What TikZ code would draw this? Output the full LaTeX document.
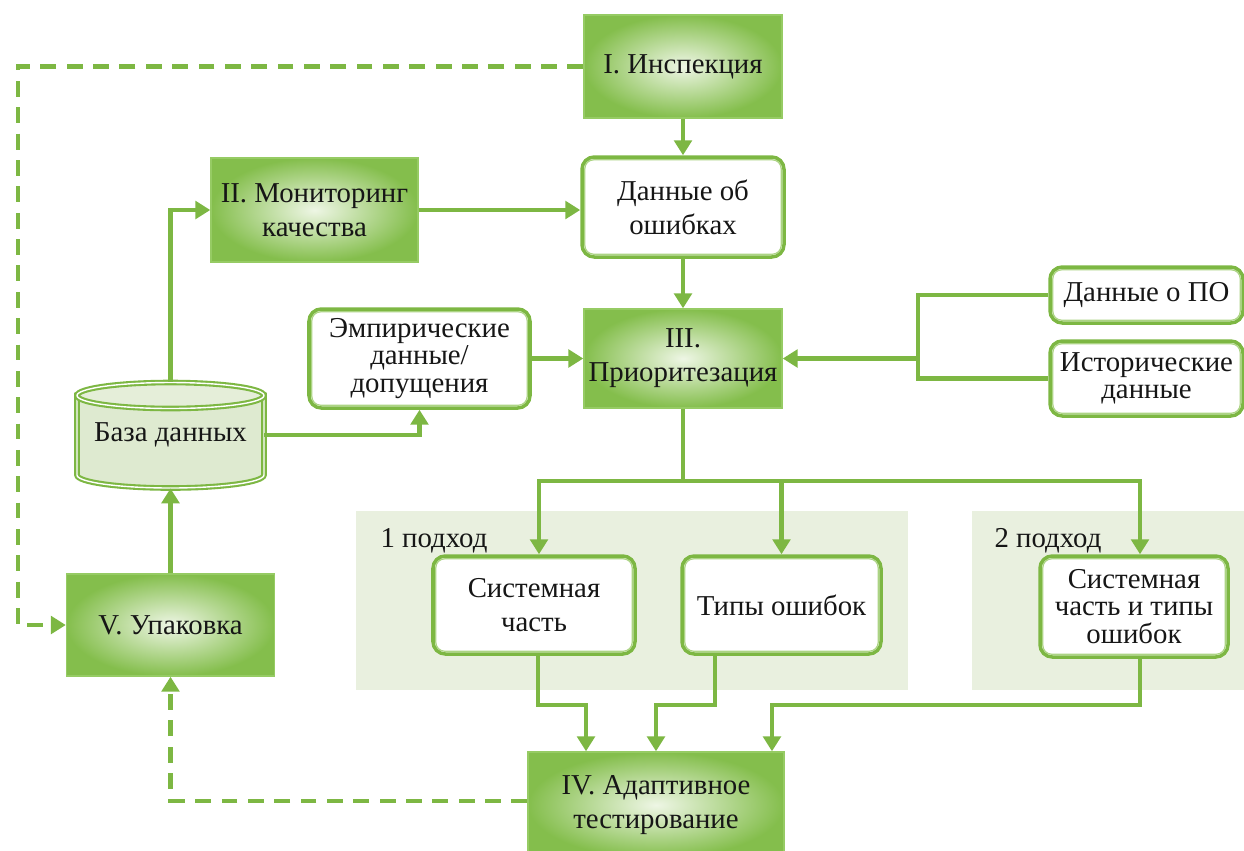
\documentclass[tikz,border=0pt]{standalone}
\usepackage{fontspec}
\setmainfont{Liberation Serif}
\usetikzlibrary{arrows.meta}
\definecolor{lineg}{RGB}{125,183,67}
\definecolor{gdark}{RGB}{132,190,76}
\definecolor{glight}{RGB}{238,246,229}
\definecolor{gborder}{RGB}{150,203,100}
\definecolor{innerg}{RGB}{172,212,132}
\definecolor{panelc}{RGB}{233,240,223}
\definecolor{dbfill}{RGB}{222,234,208}
\definecolor{txt}{RGB}{22,22,22}
\newcommand\fs{\fontsize{16.4}{19.3}\selectfont}
\newcommand\fst{\fontsize{16.4}{15.6}\selectfont}
\newcommand\fsh{\fontsize{16.4}{15.6}\selectfont}
\tikzset{
  bw/.style={minimum width=#1*0.02cm},
  bh/.style={minimum height=#1*0.02cm},
  gbox/.style={draw=gborder, line width=0.8pt, inner color=glight, outer color=gdark,
    align=center, font=\fs, text=txt, inner sep=0pt},
  wbox/.style={draw=lineg, line width=2pt, rounded corners=7pt, fill=white,
    align=center, font=\fs, text=txt, inner sep=0pt},
  innerframe/.style={draw=innerg, line width=0.7pt, rounded corners=5pt},
  conn/.style={draw=lineg, line width=2.4pt},
  arr/.style={conn, -{Triangle[width=10pt,length=8.5pt]}},
  dsh/.style={draw=lineg, line width=2.4pt, dash pattern=on 9pt off 6pt},
  darr/.style={dsh, -{Triangle[width=10pt,length=8.5pt]}},
  panel/.style={fill=panelc, draw=none},
  lbl/.style={font=\fs, text=txt, inner sep=0pt}
}
\begin{document}
\begin{tikzpicture}[x=0.02cm,y=-0.02cm]
\useasboundingbox (0,0) rectangle (1244,850);
\clip (0,0) rectangle (1244,850);

% panels
\path[panel] (356,511) rectangle (908,690);
\path[panel] (972,511) rectangle (1244,690);
\node[lbl] (l1) at (434,541) {1 подход};
\node[lbl] (l2) at (1048,541) {2 подход};

% boxes
\node[gbox, bw=198, bh=103] (insp) at (683,66.5) {I. Инспекция};
\node[wbox, bw=202, bh=100] (data) at (683,207) {Данные об\\ошибках};
\node[gbox, bw=207, bh=104] (mon) at (314.5,210) {II. Мониторинг\\качества};
\node[gbox, bw=198, bh=99] (prio) at (683,358.5) {III.\\Приоритезация};
\node[wbox, bw=221, bh=99, font=\fst] (emp) at (419.5,358.5) {Эмпирические\\данные/\\допущения};
\node[wbox, bw=193, bh=56] (po) at (1146.5,295) {Данные о ПО};
\node[wbox, bw=193, bh=75, font=\fsh] (hist) at (1146.5,378.5) {Исторические\\данные};
\node[gbox, bw=208, bh=102] (pack) at (170.5,625) {V. Упаковка};
\node[wbox, bw=202, bh=98] (sys) at (534,605) {Системная\\часть};
\node[wbox, bw=199, bh=98] (types) at (781.5,605) {Типы ошибок};
\node[wbox, bw=188, bh=101, font=\fst] (both) at (1134,606.5) {Системная\\часть и типы\\ошибок};
\node[gbox, bw=256, bh=106] (adapt) at (656,805) {IV. Адаптивное\\тестирование};

\foreach \n in {data,emp,po,hist,sys,types,both}
  \draw[innerframe] ([shift={(2.6pt,2.6pt)}]\n.south west) rectangle ([shift={(-2.6pt,-2.6pt)}]\n.north east);

% database cylinder
\draw[draw=lineg, line width=1.2pt, double=white, double distance=0.8pt, fill=dbfill]
  (77,395.5) -- (77,475) arc[start angle=180, end angle=360, x radius=1.87cm, y radius=0.26cm] -- (264,395.5) -- cycle;
\draw[draw=lineg, line width=1.2pt, double=white, double distance=0.8pt, fill=dbfill!80!white]
  (170.5,395.5) ellipse [x radius=1.87cm, y radius=0.26cm];
\node[lbl, minimum width=3.74cm, minimum height=2.12cm] (db) at (170.5,435) {База данных};

% connectors
\draw[darr] (insp.west) -- (18,66.5) |- (pack.west);
\draw[arr] (insp.south) -- (data.north);
\draw[arr] (mon.east) -- (mon.east -| data.west);
\draw[arr] (data.south) -- (prio.north);
\draw[arr] (emp.east) -- (prio.west);
\coordinate (br) at (918,358.5);
\draw[conn] (po.west) -| (br) |- (hist.west);
\draw[arr] (br) -- (prio.east);
\draw[arr] (db.north) |- (mon.west);
\draw[arr] (db.east) -| (emp.south);
\draw[arr] (pack.north) -- (db.south);

\coordinate (sp) at (683,481);
\draw[conn] (prio.south) -- (sp);
\draw[arr] (sp) -| ([xshift=0.1cm]sys.north);
\draw[arr] (sp) -| (types.north);
\draw[arr] (sp) -| ([xshift=0.12cm]both.north);

\draw[arr] ([xshift=0.08cm]sys.south) -- ++(0,49) -| ([xshift=-1.4cm]adapt.north);
\draw[arr] ([xshift=-1.33cm]types.south) -- ++(0,49) -| (adapt.north);
\draw[arr] ([xshift=0.12cm]both.south) -- ++(0,46) -| ([xshift=2.32cm]adapt.north);

\draw[darr] ([yshift=0.08cm]adapt.west) -| (pack.south);
\end{tikzpicture}
\end{document}
